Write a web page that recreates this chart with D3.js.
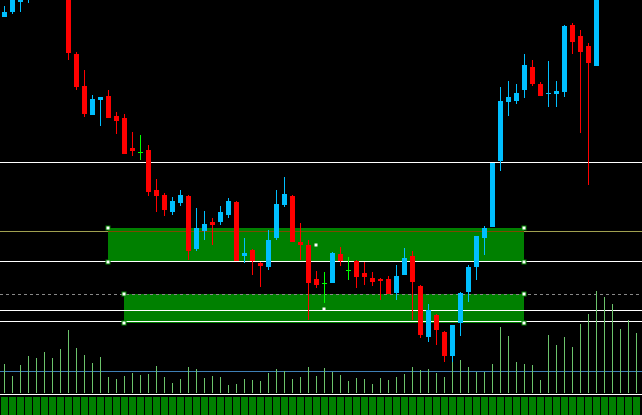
<!DOCTYPE html>
<html><head><meta charset="utf-8">
<script src="https://cdn.jsdelivr.net/npm/d3@7"></script>
<style>body{margin:0;background:#000}svg{display:block}</style>
</head><body><svg id="chart" width="642" height="415"></svg>
<script>
// OHLC
var opens  = [483,488,498,510,520,530,540,535,520,446,414,385,400,404,384,382,352,348,350,310,305,288,297,304,251,269,278,278,285,298,244,250,237,233,262,295,304,258,255,221,217,217,246,230,239,227,222,221,221,207,225,244,214,163,185,168,144,177,208,233,262,273,339,398,399,410,433,416,406,406,408,475,464,454,434,510,520,525,530,535]
var highs  = [494,510,520,530,540,550,560,555,525,448,430,405,403,410,388,386,368,365,355,321,307,303,310,305,292,289,282,294,302,299,262,251,238,270,310,323,305,277,260,229,228,248,253,243,240,238,228,222,224,235,252,249,215,196,186,169,175,208,235,264,274,337,413,419,416,446,440,418,439,419,475,477,470,457,520,540,545,545,550,555]
var lows   = [483,486,488,497,510,520,525,520,440,410,383,385,374,382,366,346,344,340,304,288,284,285,294,240,249,260,255,275,282,239,237,225,213,230,260,293,258,240,180,212,197,217,234,220,212,215,214,200,206,200,225,180,162,158,155,138,138,164,198,220,245,273,329,384,396,402,414,404,393,393,403,446,367,315,434,505,515,520,525,530]
var closes = [488,505,500,520,530,540,535,530,447,413,386,401,403,382,379,346,349,348,308,304,290,299,305,249,272,276,275,288,299,239,247,239,234,260,296,306,258,255,217,215,217,247,239,230,223,223,218,219,206,224,242,218,165,190,170,144,175,207,233,264,272,337,399,403,407,435,416,404,407,409,474,458,448,437,505,530,535,540,545,550]
var volumes = [29,17,28,37,35,41,35,44,63,45,38,30,36,16,14,17,20,18,19,27,16,10,14,26,24,15,17,16,8,9,14,13,12,20,24,22,14,16,26,17,25,21,18,12,15,14,9,15,13,16,19,26,23,24,20,16,33,33,26,21,21,29,66,57,31,29,28,13,58,48,56,46,69,79,102,96,89,64,73,60]
var levels = [338, 239, 190, 179]   // white horizontal lines
var dashedLevel = 206
var trendLevel = 269
// zones: [start bar, end bar, top, bottom]
var zones = [[13, 65, 272, 238], [15, 65, 206, 177]]
var marks = [[39, 255], [40, 191]]

var svg = d3.select("#chart")
svg.append("rect").attr("width", 642).attr("height", 415).attr("fill", "#000")

var x = d3.scaleLinear().domain([0, 79]).range([4, 636])
var y = d3.scaleLinear().domain([0, 500]).range([500, 0])
var vy = d3.scaleLinear().domain([0, 113]).range([393, 280])

// zones
zones.forEach(function (z) {
    svg.append("rect").attr("x", x(z[0])).attr("y", y(z[2]))
        .attr("width", x(z[1]) - x(z[0])).attr("height", y(z[3]) - y(z[2]))
        .attr("fill", "#008000")
})
svg.append("line").attr("x1", 0).attr("x2", 642).attr("y1", y(trendLevel) + .5).attr("y2", y(trendLevel) + .5)
    .attr("stroke", "#a0a050")
svg.append("line").attr("x1", x(13)).attr("x2", x(65)).attr("y1", y(trendLevel) + .5).attr("y2", y(trendLevel) + .5)
    .attr("stroke", "#7a4a00")

levels.forEach(function (l) {
    svg.append("line").attr("x1", 0).attr("x2", 642).attr("y1", y(l) + .5).attr("y2", y(l) + .5)
        .attr("stroke", "#fff")
})
svg.append("line").attr("x1", 0).attr("x2", 642).attr("y1", y(dashedLevel) + .5).attr("y2", y(dashedLevel) + .5)
    .attr("stroke", "#888").attr("stroke-dasharray", "3,3")

// volume
svg.append("line").attr("x1", 0).attr("x2", 642).attr("y1", 371.5).attr("y2", 371.5).attr("stroke", "#3f7fb5")
svg.selectAll(".vol").data(volumes).enter().append("line")
    .attr("x1", (d, i) => x(i) + .5).attr("x2", (d, i) => x(i) + .5)
    .attr("y1", vy(0)).attr("y2", d => vy(d))
    .attr("stroke", "#6cc46c")
svg.append("line").attr("x1", 0).attr("x2", 642).attr("y1", 394.5).attr("y2", 394.5).attr("stroke", "#fff")
svg.selectAll(".osc").data(volumes).enter().append("rect")
    .attr("x", (d, i) => x(i) - 3).attr("y", 397).attr("width", 7).attr("height", 18)
    .attr("fill", "#008000")

// candles
function col(i) {
    if (closes[i] > opens[i]) return "#00bfff"
    if (closes[i] < opens[i]) return "#ff0000"
    return "#00ff00"
}
var idx = d3.range(opens.length)
svg.selectAll(".wick").data(idx).enter().append("line")
    .attr("x1", i => x(i) + .5).attr("x2", i => x(i) + .5)
    .attr("y1", i => y(highs[i])).attr("y2", i => y(lows[i]))
    .attr("stroke", col)
svg.selectAll(".body").data(idx).enter().append("rect")
    .attr("x", i => x(i) - 2).attr("width", 5)
    .attr("y", i => y(Math.max(opens[i], closes[i])))
    .attr("height", i => Math.max(1, Math.abs(y(opens[i]) - y(closes[i]))))
    .attr("fill", col)

// handles
zones.forEach(function (z) {
    [[z[0], z[2]], [z[1], z[2]], [z[0], z[3]], [z[1], z[3]]].forEach(function (p) {
        svg.append("rect").attr("x", x(p[0]) - 2).attr("y", y(p[1]) - 2).attr("width", 4).attr("height", 4)
            .attr("fill", "#fff").attr("stroke", "#008000")
    })
})
marks.forEach(function (m) {
    svg.append("rect").attr("x", x(m[0]) - 1.5).attr("y", y(m[1]) - 1.5).attr("width", 3).attr("height", 3).attr("fill", "#fff")
})
</script></body></html>
